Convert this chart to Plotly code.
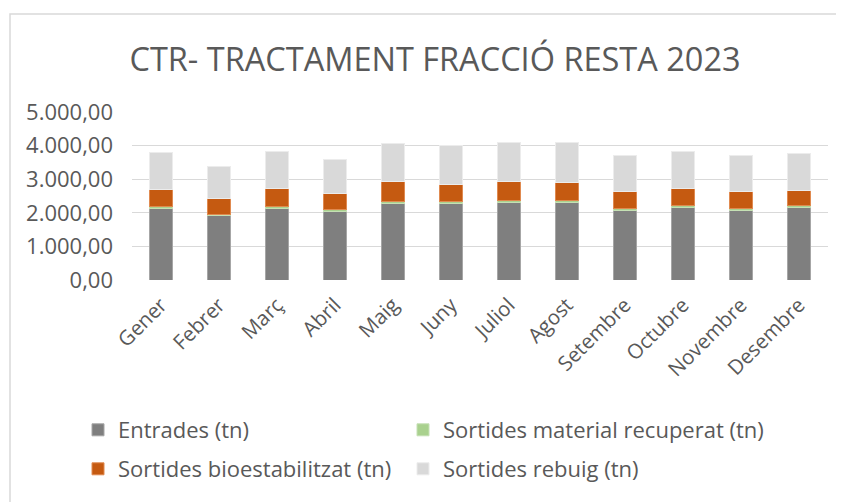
import plotly.graph_objects as go

mesos = ["Gener", "Febrer", "Març", "Abril", "Maig", "Juny", "Juliol",
         "Agost", "Setembre", "Octubre", "Novembre", "Desembre"]
entrades = [2140, 1910, 2140, 2040, 2270, 2290, 2320, 2320, 2080, 2170, 2080, 2170]
material_recuperat = [50, 40, 50, 50, 60, 50, 50, 50, 50, 50, 50, 60]
bioestabilitzat = [505, 465, 545, 475, 605, 515, 555, 545, 515, 505, 495, 445]
rebuig = [1100, 950, 1090, 1030, 1140, 1150, 1160, 1170, 1060, 1090, 1080, 1090]

titol = "CTR- TRACTAMENT FRACCIÓ RESTA 2023"
noms = ["Entrades (tn)", "Sortides material recuperat (tn)",
        "Sortides bioestabilitzat (tn)", "Sortides rebuig (tn)"]
colors = ["#7f7f7f", "#a9d18e", "#c55a11", "#d9d9d9"]
vores = ["#a6a6a6", "#c5e0b4", "#e08a50", "#ececec"]
llegendes = ["legend", "legend2", "legend3", "legend4"]

FONT = "Open Sans"
TXT = "#595959"

fig = go.Figure()
for nom, vals, col, vora, lg in zip(noms, [entrades, material_recuperat, bioestabilitzat, rebuig],
                                    colors, vores, llegendes):
    fig.add_trace(go.Bar(x=mesos, y=vals, name=nom, legend=lg,
                         marker=dict(color=col, line=dict(color=vora, width=1))))

# page body has an 8px margin: work in figure coordinates = screen - 8
OFF = 8
W, H = 844 - OFF, 502 - OFF
L, R, T, B = 132 - OFF, 16, 112 - OFF, 222
pw, ph = W - L - R, H - T - B

def px_x(p):
    return (p - OFF - L) / pw

def px_y(p):
    return (H - B - (p - OFF)) / ph

leg_common = dict(orientation="h", xanchor="left", yanchor="middle",
                  font=dict(size=22, color=TXT, family=FONT),
                  bgcolor="rgba(0,0,0,0)")

fig.update_layout(
    width=W, height=H,
    margin=dict(l=L, r=R, t=T, b=B, pad=0, autoexpand=False),
    barmode="stack",
    bargap=0.59,
    plot_bgcolor="white", paper_bgcolor="white",
    separators=",.",
    font=dict(family=FONT, color=TXT),
    title=dict(text=titol, x=(435 - OFF) / W, xref="container", xanchor="center",
               y=1 - (60 - OFF) / H, yref="container", yanchor="middle",
               font=dict(size=32.5, color=TXT, family=FONT)),
    xaxis=dict(tickangle=-45, tickfont=dict(size=20.5, color=TXT), showgrid=False,
               showline=False, ticks="", ticklabelstandoff=8),
    yaxis=dict(range=[0, 5000], dtick=1000, tickformat=",.2f",
               tickfont=dict(size=22, color=TXT), gridcolor="#d9d9d9", gridwidth=1.3,
               zeroline=False, showline=False, ticks="", ticklabelstandoff=18),
    legend=dict(x=px_x(78), y=px_y(430), **leg_common),
    legend2=dict(x=px_x(403), y=px_y(430), **leg_common),
    legend3=dict(x=px_x(78), y=px_y(469), **leg_common),
    legend4=dict(x=px_x(403), y=px_y(469), **leg_common),
    showlegend=True,
    shapes=[dict(type="rect", xref="paper", yref="paper",
                 x0=px_x(10), x1=px_x(880), y0=px_y(14), y1=px_y(540),
                 line=dict(color="#d9d9d9", width=1.5), fillcolor="rgba(0,0,0,0)",
                 layer="below")],
)

fig.write_html("out.html")
